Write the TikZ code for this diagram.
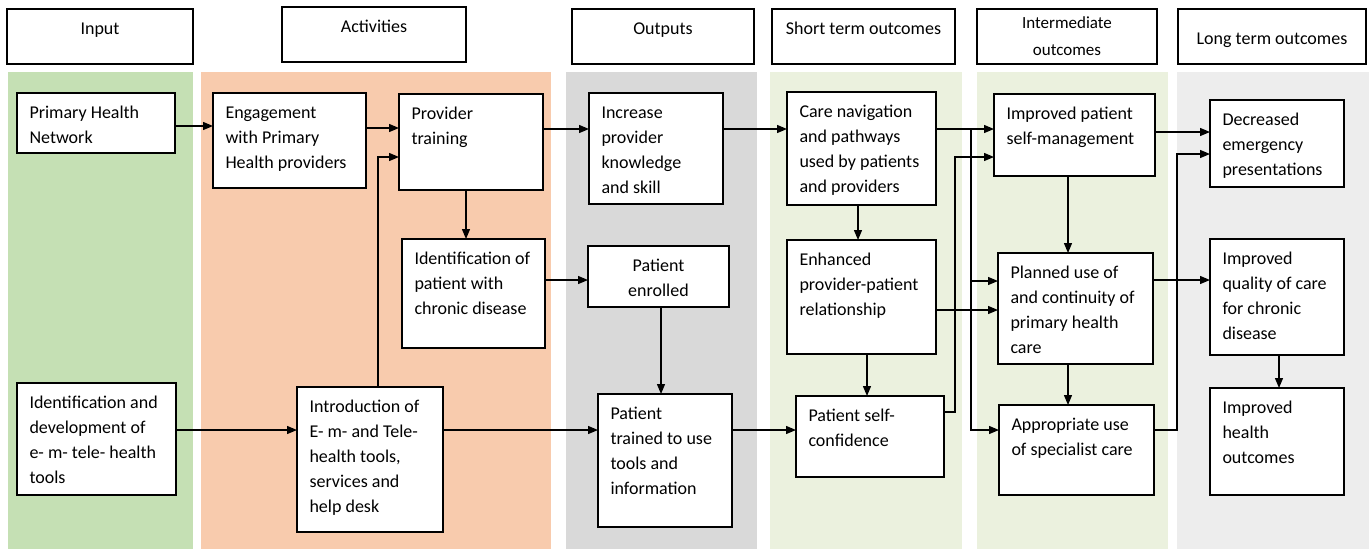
\documentclass[tikz,border=0pt]{standalone}
\usepackage{fontspec}
\setmainfont{Carlito}
\usetikzlibrary{arrows.meta}
\definecolor{cgreen}{HTML}{C5E0B4}
\definecolor{corange}{HTML}{F8CBAD}
\definecolor{cgray}{HTML}{D9D9D9}
\definecolor{clgreen}{HTML}{EBF1DE}
\definecolor{clgray}{HTML}{EDEDED}
\tikzset{
  box/.style={draw=black, fill=white, line width=1.3pt, inner sep=0pt, outer sep=0pt, anchor=north west},
  arr/.style={line width=1.3pt, -{Triangle[length=10pt,width=8pt]}},
  ln/.style={line width=1.3pt},
  band/.style={draw=none}
}
% \bx[format]{name}{x1}{y1}{x2}{y2}{gap}{text}
\newcommand\bx[7][\raggedright\leftskip=12.5pt]{%
  \node[box] (#2) at (#3,#4) {\parbox[c][\dimexpr#6pt-#4pt\relax][t]{\dimexpr#5pt-#3pt\relax}{%
    \fontsize{18}{25}\selectfont#1\vspace*{8pt}\strut #7}};}
\newcommand\hd[7]{%
  \node[box] (#1) at (#2,#3) {\parbox[c][\dimexpr#5pt-#3pt\relax][t]{\dimexpr#4pt-#2pt\relax}{%
    \fontsize{18}{#7}\selectfont\centering\vspace*{#6}\strut #1text}};}
\begin{document}
\begin{tikzpicture}[x=1pt,y=-1pt]
\useasboundingbox (0,0) rectangle (1369,549);
\fill[white] (0,0) rectangle (1369,549);
% bands
\fill[cgreen] (8,72) rectangle (193,549);
\fill[corange] (201,72) rectangle (551,549);
\fill[cgray] (566,72) rectangle (757,549);
\fill[clgreen] (770,72) rectangle (962,549);
\fill[clgreen] (977,72) rectangle (1168,549);
\fill[clgray] (1177,72) rectangle (1369,549);
% headers
\node[box] (hin) at (7,9) {\parbox[c][55pt][t]{186pt}{\fontsize{18}{25}\selectfont\centering\vspace*{8pt}\strut Input}};
\node[box] (hact) at (282,7) {\parbox[c][55pt][t]{184pt}{\fontsize{18}{25}\selectfont\centering\vspace*{8pt}\strut Activities}};
\node[box] (hout) at (572,9) {\parbox[c][55pt][t]{182pt}{\fontsize{18}{25}\selectfont\centering\vspace*{8pt}\strut Outputs}};
\node[box] (hst) at (772,9) {\parbox[c][55pt][t]{183pt}{\fontsize{18}{25}\selectfont\centering\vspace*{8pt}\strut Short term outcomes}};
\node[box] (hint) at (977,9) {\parbox[c][55pt][t]{180pt}{\fontsize{17}{27}\selectfont\centering\vspace*{1pt}\strut Intermediate\\ outcomes}};
\node[box] (hlt) at (1178,9) {\parbox[c][55pt][t]{188pt}{\fontsize{18}{25}\selectfont\centering\vspace*{18pt}\strut Long term outcomes}};
% input
\bx{phn}{17}{93}{175}{153}{Primary Health\\ Network}
\bx{idd}{17}{383}{176}{495}{Identification and\\ development of\\ e- m- tele- health\\ tools}
% activities
\bx{eng}{213}{93}{366}{188}{Engagement\\ with Primary\\ Health providers}
\bx{prt}{399}{94}{543}{190}{Provider\\ training}
\bx{idp}{402}{239}{545}{348}{Identification of\\ patient with\\ chronic disease}
\bx{intro}{297}{387}{443}{532}{Introduction of\\ E- m- and Tele-\\ health tools,\\ services and\\ help desk}
% outputs
\bx{inc}{589}{93}{723}{204}{Increase\\ provider\\ knowledge\\ and skill}
\bx[\centering]{enr}{588}{246}{729}{307}{Patient\\ enrolled}
\bx{ptu}{598}{394}{732}{527}{Patient\\ trained to use\\ tools and\\ information}
% short term
\bx{care}{787}{92}{936}{205}{Care navigation\\ and pathways\\ used by patients\\ and providers}
\bx{enh}{787}{240}{936}{354}{Enhanced\\ provider-patient\\ relationship}
\bx{psc}{796}{396}{944}{477}{Patient self-\\ confidence}
% intermediate
\bx{ipsm}{994}{94}{1155}{176}{Improved patient\\ self-management}
\bx{plan}{998}{253}{1153}{364}{Planned use of\\ and continuity of\\ primary health\\ care}
\bx{app}{999}{405}{1154}{495}{Appropriate use\\ of specialist care}
% long term
\bx{dec}{1210}{100}{1344}{187}{Decreased\\ emergency\\ presentations}
\bx{iq}{1210}{239}{1344}{355}{Improved\\ quality of care\\ for chronic\\ disease}
\bx{iho}{1210}{388}{1344}{495}{Improved\\ health\\ outcomes}
% connectors
\draw[arr] (phn.east |- 0,126) -- (eng.west |- 0,126);
\draw[arr] (eng.east |- 0,128) -- (prt.west |- 0,128);
\draw[arr] (intro.north -| 378,0) |- (prt.west |- 0,157);
\draw[arr] (prt.south -| 466,0) -- (idp.north -| 466,0);
\draw[arr] (prt.east |- 0,129) -- (inc.west |- 0,129);
\draw[arr] (idp.east |- 0,280) -- (enr.west |- 0,280);
\draw[arr] (idd.east |- 0,430) -- (intro.west |- 0,430);
\draw[arr] (intro.east |- 0,430) -- (ptu.west |- 0,430);
\draw[arr] (enr.south -| 661,0) -- (ptu.north -| 661,0);
\draw[arr] (inc.east |- 0,129) -- (care.west |- 0,129);
\draw[arr] (ptu.east |- 0,430) -- (psc.west |- 0,430);
\draw[arr] (care.south -| 858,0) -- (enh.north -| 858,0);
\draw[arr] (enh.south -| 867,0) -- (psc.north -| 867,0);
\draw[arr] (care.east |- 0,129) -- (ipsm.west |- 0,129);
\coordinate (br) at (971,129);
\draw[arr] (br) |- (plan.west |- 0,281);
\draw[arr] (br) |- (app.west |- 0,430);
\draw[arr] (enh.east |- 0,310) -- (plan.west |- 0,310);
\draw[arr] (psc.east |- 0,412) -| (955,157) -- (ipsm.west |- 0,157);
\draw[arr] (ipsm.east |- 0,132) -- (dec.west |- 0,132);
\draw[arr] (app.east |- 0,430) -| (1177,154) -- (dec.west |- 0,154);
\draw[arr] (ipsm.south -| 1068,0) -- (plan.north -| 1068,0);
\draw[arr] (plan.south -| 1068,0) -- (app.north -| 1068,0);
\draw[arr] (plan.east |- 0,280) -- (iq.west |- 0,280);
\draw[arr] (iq.south -| 1279,0) -- (iho.north -| 1279,0);
\end{tikzpicture}
\end{document}
